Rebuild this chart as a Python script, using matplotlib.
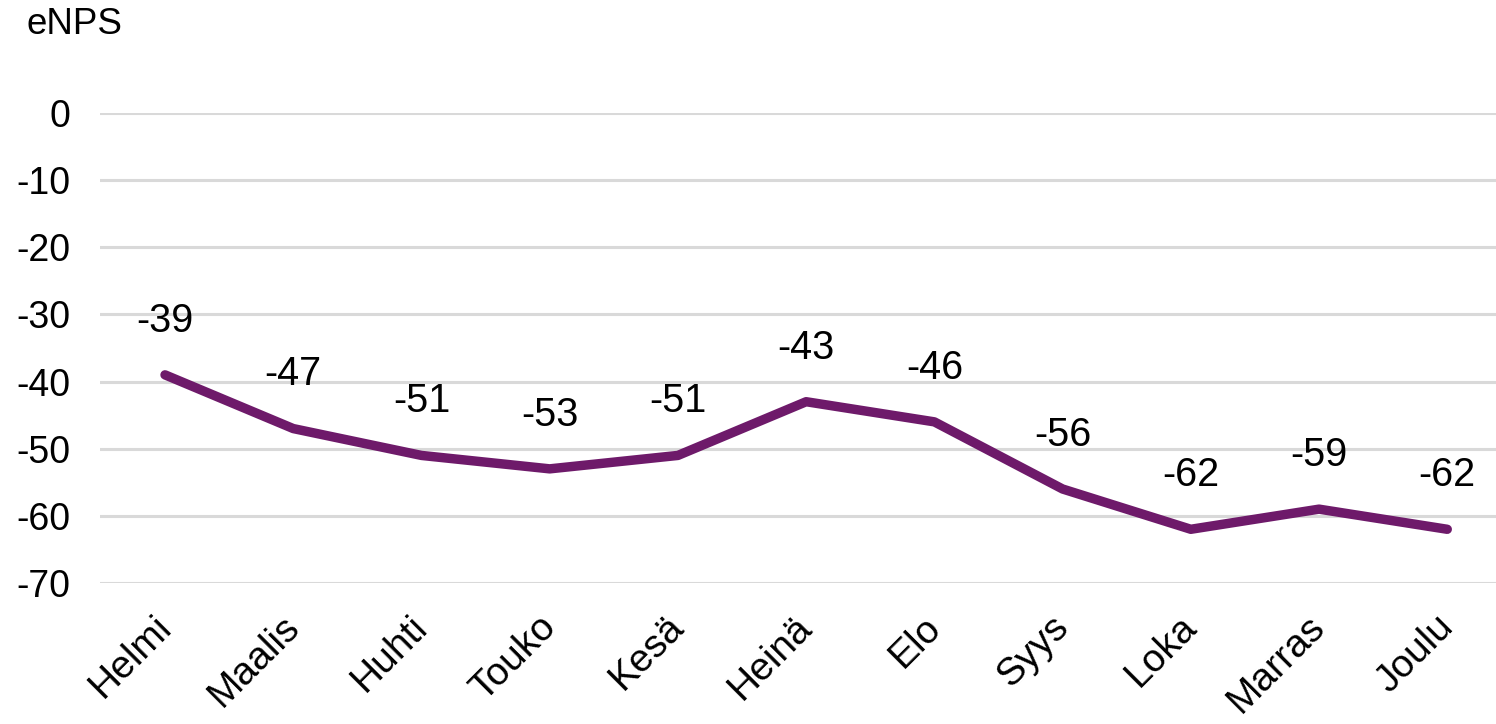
import matplotlib
matplotlib.use("Agg")
import matplotlib.pyplot as plt

months = ["Helmi", "Maalis", "Huhti", "Touko", "Kesä", "Heinä", "Elo", "Syys", "Loka", "Marras", "Joulu"]
enps = [-39, -47, -51, -53, -51, -43, -46, -56, -62, -59, -62]
yticks = [0, -10, -20, -30, -40, -50, -60, -70]

plt.rcParams['font.family'] = ['Liberation Sans', 'DejaVu Sans']

fig = plt.figure(figsize=(14.96, 7.24), dpi=100)
ax = fig.add_axes([100/1496, 1-583/724, (1496-100)/1496, (583-113)/724])

x = list(range(len(months)))
ax.plot(x, enps, color="#6E1A6A", linewidth=6.8, solid_capstyle='round', solid_joinstyle='round', zorder=3)
for xi, v in zip(x, enps):
    ax.annotate(str(v), (xi, v), xytext=(0, 39), textcoords='offset points',
                ha='center', va='center', fontsize=28.5, color='black')

ax.set_xlim(-0.507, 10.38)
ax.set_ylim(-70, 0)
ax.set_yticks(yticks)
ax.set_yticklabels([str(t) for t in yticks], fontsize=27)
ax.set_xticks(x)
ax.set_xticklabels([])
for xi, m in zip(x, months):
    ax.annotate(m, (xi, 0), xycoords=ax.get_xaxis_transform(), xytext=(-12, -26),
                textcoords='offset pixels', rotation=45, ha='right', va='top',
                rotation_mode='anchor', fontsize=28, annotation_clip=False)
ax.tick_params(axis='y', length=0, pad=21)
ax.tick_params(axis='x', length=0)
ax.grid(axis='y', color='#D9D9D9', linewidth=2.2)
ax.set_axisbelow(True)
for s in ax.spines.values():
    s.set_visible(False)

fig.text(26/1496, 1-25/724, "eNPS", fontsize=26.5, ha='left', va='center')

fig.savefig("out.png", dpi=100)
